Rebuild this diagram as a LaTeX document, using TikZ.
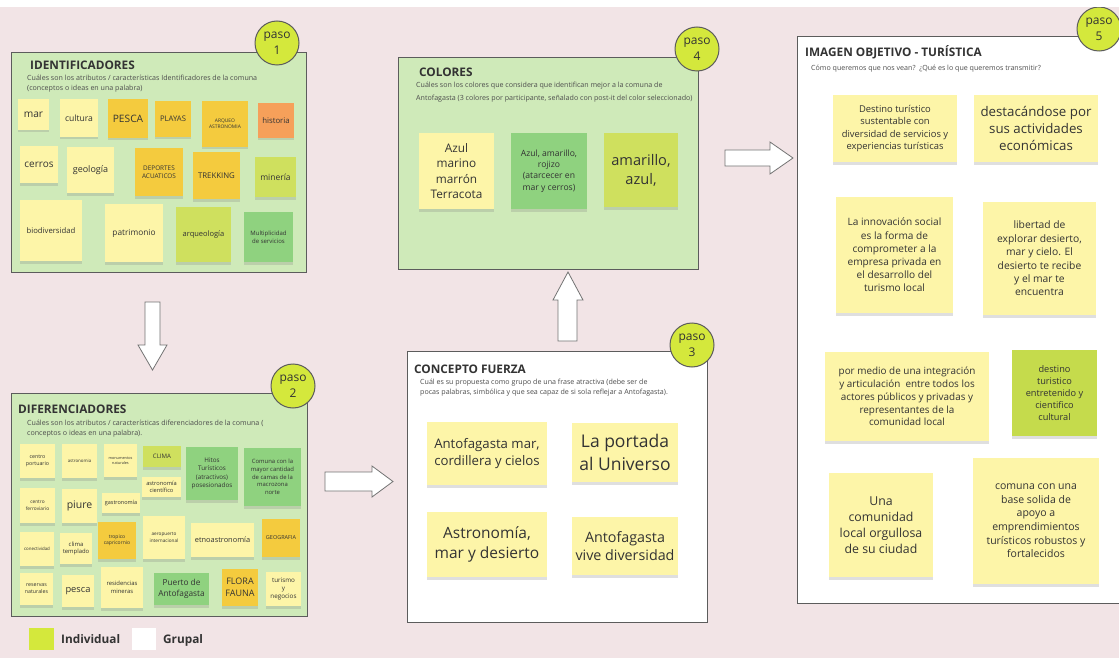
\documentclass[tikz,border=0pt]{standalone}
\usepackage{fontspec}
\setmainfont{Open Sans}
\usetikzlibrary{shadows}
\definecolor{bgpink}{HTML}{F2E4E6}
\definecolor{panelgreen}{HTML}{CFEAB9}
\definecolor{pale}{HTML}{FDF5A8}
\definecolor{gold}{HTML}{F4CB3E}
\definecolor{orng}{HTML}{F6A05A}
\definecolor{lime}{HTML}{CFE05E}
\definecolor{limedark}{HTML}{C5DB4C}
\definecolor{grn}{HTML}{8FD27F}
\definecolor{pasofill}{HTML}{D4E83C}
\definecolor{edge}{HTML}{5C5C5C}
\definecolor{ink}{HTML}{333333}
\newcommand\fs[1]{\pgfmathsetmacro\fslead{#1*1.3}\fontsize{#1}{\fslead}\selectfont}
\tikzset{
  panel/.style={draw=edge, line width=1.1pt, anchor=north west, inner sep=0pt},
  sticky/.style={fill=pale, inner sep=1pt, align=center, text=ink,
    drop shadow={shadow xshift=0pt, shadow yshift=-2.5pt, opacity=0.25}},
  paso/.style={circle, draw=edge, line width=1pt, fill=pasofill, minimum size=44pt,
    inner sep=0pt, align=center, font=\fs{12}, text=ink},
  ptitle/.style={anchor=base west, inner sep=0pt, font=\bfseries\fs{11.8}, text=ink},
  psub/.style={anchor=base west, inner sep=0pt, font=\fs{7.1}, text=black!70},
  blockarrow/.style={fill=white, draw=black!55, line width=0.8pt, line join=miter},
}
\begin{document}
\begin{tikzpicture}[x=1pt,y=-1pt]
\clip (0,0) rectangle (1119,658);
\fill[bgpink] (0,0) rectangle (1119,658);

% ---------- panels ----------
\node[panel, fill=panelgreen, minimum width=295pt, minimum height=220pt] (p1) at (11,52) {};
\node[panel, fill=panelgreen, minimum width=296pt, minimum height=223pt] (p2) at (11,393) {};
\node[panel, fill=panelgreen, minimum width=300pt, minimum height=212pt] (p4) at (398,57) {};
\node[panel, fill=white, minimum width=300pt, minimum height=271pt] (p3) at (407,351) {};
\node[panel, fill=white, minimum width=335pt, minimum height=567pt] (p5) at (797,36) {};

% ---------- block arrows ----------
\draw[blockarrow] (145,302) -- (160,302) -- (160,345) -- (167,345) -- (152.5,370) -- (138,345) -- (145,345) -- cycle;
\draw[blockarrow] (325,472) -- (372,472) -- (372,466) -- (393,481.5) -- (372,497) -- (372,491) -- (325,491) -- cycle;
\draw[blockarrow] (558,341) -- (558,300) -- (553,300) -- (568,272) -- (583,300) -- (577,300) -- (577,341) -- cycle;
\draw[blockarrow] (725,150) -- (770,150) -- (770,142) -- (793,158) -- (770,174) -- (770,166) -- (725,166) -- cycle;

% ---------- panel 1: IDENTIFICADORES ----------
\node[ptitle] (t1) at (30,70) {IDENTIFICADORES};
\node[psub] (s1a) at (27,80.5) {Cuáles son los atributos / características Identificadores de la comuna};
\node[psub] (s1b) at (27,91) {(conceptos o ideas en una palabra)};

\node[sticky, minimum width=31pt, minimum height=31pt, font=\fs{10.2}] (i1) at (33.5,114.5) {mar};
\node[sticky, minimum width=38pt, minimum height=38pt, font=\fs{8.6}] (i2) at (79,118) {cultura};
\node[sticky, fill=gold, minimum width=40pt, minimum height=39pt, font=\fs{10.2}] (i3) at (128,118.5) {PESCA};
\node[sticky, fill=gold, minimum width=36pt, minimum height=36pt, font=\fs{7.7}] (i4) at (173,119) {PLAYAS};
\node[sticky, fill=gold, minimum width=46pt, minimum height=46pt, font=\fs{4.9}] (i5) at (225,124) {ARQUEO\\ASTRONOMIA};
\node[sticky, fill=orng, minimum width=36pt, minimum height=35pt, font=\fs{7.8}] (i6) at (276,120.5) {historia};
\node[sticky, minimum width=38pt, minimum height=37pt, font=\fs{10}] (i7) at (39,164.5) {cerros};
\node[sticky, minimum width=47pt, minimum height=46pt, font=\fs{9}] (i8) at (90.5,170) {geología};
\node[sticky, fill=gold, minimum width=48pt, minimum height=48pt, font=\fs{6.4}] (i9) at (159,172) {DEPORTES\\ACUATICOS};
\node[sticky, fill=gold, minimum width=47pt, minimum height=47pt, font=\fs{7.8}] (i10) at (216.5,175.5) {TREKKING};
\node[sticky, fill=lime, minimum width=41pt, minimum height=40pt, font=\fs{8.5}] (i11) at (275.5,177) {minería};
\node[sticky, minimum width=62pt, minimum height=61pt, font=\fs{7.7}] (i12) at (51,230.5) {biodiversidad};
\node[sticky, minimum width=58pt, minimum height=58pt, font=\fs{8.3}] (i13) at (134,233) {patrimonio};
\node[sticky, fill=lime, minimum width=55pt, minimum height=55pt, font=\fs{7.5}] (i14) at (203.5,234.5) {arqueología};
\node[sticky, fill=grn, minimum width=49pt, minimum height=50pt, font=\fs{6}] (i15) at (268.5,237) {Multiplicidad\\de servicios};

% ---------- panel 2: DIFERENCIADORES ----------
\node[ptitle] (t2) at (18,413) {DIFERENCIADORES};
\node[psub] (s2a) at (27,425) {Cuáles son los atributos / características diferenciadores de la comuna (};
\node[psub] (s2b) at (27,435.5) {conceptos o ideas en una palabra).};

\node[sticky, minimum width=35pt, minimum height=34pt, font=\fs{5.3}] (d1) at (37.5,461) {centro\\portuario};
\node[sticky, minimum width=35pt, minimum height=34pt, font=\fs{4.4}] (d2) at (79.5,461) {astronomia};
\node[sticky, minimum width=33pt, minimum height=33pt, font=\fs{3.8}] (d3) at (120.5,460.5) {monumentos\\naturales};
\node[sticky, fill=lime, minimum width=38pt, minimum height=21pt, font=\fs{6.1}] (d4) at (162,456.5) {CLIMA};
\node[sticky, fill=grn, minimum width=52pt, minimum height=53pt, font=\fs{6.3}] (d5) at (212,473.5) {Hitos\\Turísticos\\(atractivos)\\posesionados};
\node[sticky, fill=grn, minimum width=57pt, minimum height=58pt, font=\fs{5.9}] (d6) at (272.5,477) {Comuna con la\\mayor cantidad\\de camas de la\\macrozona\\norte};
\node[sticky, minimum width=39pt, minimum height=20pt, font=\fs{5.7}] (d7) at (161.5,487) {astronomía\\científico};
\node[sticky, minimum width=35pt, minimum height=35pt, font=\fs{4.8}] (d8) at (37.5,505.5) {centro\\ferroviario};
\node[sticky, minimum width=35pt, minimum height=34pt, font=\fs{10.5}] (d9) at (79.5,506) {piure};
\node[sticky, minimum width=38pt, minimum height=20pt, font=\fs{5.5}] (d10) at (121,503) {gastronomía};
\node[sticky, fill=gold, minimum width=38pt, minimum height=37pt, font=\fs{5}] (d11) at (117,540.5) {tropico\\capricornio};
\node[sticky, minimum width=42pt, minimum height=43pt, font=\fs{4.7}] (d12) at (164,537.5) {aeropuerto\\internacional};
\node[sticky, minimum width=63pt, minimum height=34pt, font=\fs{7.4}] (d13) at (222.5,540) {etnoastronomía};
\node[sticky, fill=gold, minimum width=38pt, minimum height=38pt, font=\fs{5.5}] (d14) at (281,538) {GEOGRAFIA};
\node[sticky, minimum width=34pt, minimum height=34pt, font=\fs{4.4}] (d15) at (37,549) {conectividad};
\node[sticky, minimum width=32pt, minimum height=31pt, font=\fs{5.9}] (d16) at (76,548.5) {clima\\templado};
\node[sticky, minimum width=33pt, minimum height=32pt, font=\fs{5.3}] (d17) at (36.5,589) {reservas\\naturales};
\node[sticky, minimum width=32pt, minimum height=32pt, font=\fs{9.3}] (d18) at (78,591) {pesca};
\node[sticky, minimum width=42pt, minimum height=41pt, font=\fs{5.9}] (d19) at (122,587.5) {residencias\\mineras};
\node[sticky, fill=grn, minimum width=55pt, minimum height=32pt, font=\fs{8.3}] (d20) at (181.5,589) {Puerto de\\Antofagasta};
\node[sticky, fill=gold, minimum width=36pt, minimum height=37pt, font=\fs{9}] (d21) at (240,587.5) {FLORA\\FAUNA};
\node[sticky, minimum width=35pt, minimum height=34pt, font=\fs{6.3}] (d22) at (283.5,589) {turismo\\y\\negocios};

% ---------- panel 4: COLORES ----------
\node[ptitle] (t4) at (419,77) {COLORES};
\node[psub] (s4a) at (416,88) {Cuáles son los colores que considera que identifican mejor a la comuna de};
\node[psub] (s4b) at (416,101) {Antofagasta (3 colores por participante, señalado con post-it del color seleccionado)};

\node[sticky, minimum width=75pt, minimum height=76pt, font=\fs{11.8}] (c1) at (456.5,171) {Azul\\marino\\marrón\\Terracota};
\node[sticky, fill=grn, minimum width=76pt, minimum height=76pt, font=\fs{8.6}] (c2) at (549,171) {Azul, amarillo,\\rojizo\\(atarcecer en\\mar y cerros)};
\node[sticky, fill=lime, minimum width=74pt, minimum height=74pt, font=\fs{14.6}] (c3) at (641,170) {amarillo,\\azul,};

% ---------- panel 3: CONCEPTO FUERZA ----------
\node[ptitle] (t3) at (414,373) {CONCEPTO FUERZA};
\node[psub] (s3a) at (420,384) {Cuál es su propuesta como grupo de una frase atractiva (debe ser de};
\node[psub] (s3b) at (420,394.5) {pocas palabras, simbólica y que sea capaz de si sola reflejar a Antofagasta).};

\node[sticky, minimum width=120pt, minimum height=63pt, font=\fs{13.2}] (f1) at (487,453.5) {Antofagasta mar,\\cordillera y cielos};
\node[sticky, minimum width=106pt, minimum height=59pt, font=\fs{17.5}] (f2) at (625,452.5) {La portada\\al Universo};
\node[sticky, minimum width=120pt, minimum height=65pt, font=\fs{15.5}] (f3) at (487,544.5) {Astronomía,\\mar y desierto};
\node[sticky, minimum width=106pt, minimum height=58pt, font=\fs{14.3}] (f4) at (625,546) {Antofagasta\\vive diversidad};

% ---------- panel 5: IMAGEN OBJETIVO ----------
\node[ptitle] (t5) at (805,57) {IMAGEN OBJETIVO - TURÍSTICA};
\node[psub] (s5a) at (811,71) {Cómo queremos que nos vean?\ \ ¿Qué es lo que queremos transmitir?};

\node[sticky, minimum width=124pt, minimum height=67pt, font=\fs{9.4}] (o1) at (895,128.5) {Destino turístico\\sustentable con\\diversidad de servicios y\\experiencias turísticas};
\node[sticky, minimum width=124pt, minimum height=67pt, font=\fs{13.3}] (o2) at (1036,128.5) {destacándose por\\sus actividades\\económicas};
\node[sticky, minimum width=117pt, minimum height=116pt, font=\fs{10.1}] (o3) at (894.5,255) {La innovación social\\es la forma de\\comprometer a la\\empresa privada en\\el desarrollo del\\turismo local};
\node[sticky, minimum width=113pt, minimum height=113pt, font=\fs{10.3}] (o4) at (1039.5,258.5) {libertad de\\explorar desierto,\\mar y cielo. El\\desierto te recibe\\y el mar te\\encuentra};
\node[sticky, minimum width=164pt, minimum height=89pt, font=\fs{9.9}] (o5) at (907,396.5) {por medio de una integración\\y articulación\ \ entre todos los\\actores públicos y privadas y\\representantes de la\\comunidad local};
\node[sticky, fill=limedark, minimum width=85pt, minimum height=86pt, font=\fs{9.2}] (o6) at (1054.5,393) {destino\\turistico\\entretenido y\\cientifico\\cultural};
\node[sticky, minimum width=104pt, minimum height=104pt, font=\fs{12.3}] (o7) at (881,525) {Una\\comunidad\\local orgullosa\\de su ciudad};
\node[sticky, minimum width=126pt, minimum height=126pt, font=\fs{10.5}] (o8) at (1036,521) {comuna con una\\base solida de\\apoyo a\\emprendimientos\\turísticos robustos y\\fortalecidos};

% ---------- paso circles ----------
\node[paso] (paso1) at (277,43) {paso\\1};
\node[paso] (paso2) at (293,386) {paso\\2};
\node[paso] (paso4) at (697,49) {paso\\4};
\node[paso] (paso3) at (692,345) {paso\\3};
\node[paso] (paso5) at (1099,29) {paso\\5};

% ---------- legend ----------
\node[fill=pasofill, minimum width=25pt, minimum height=22pt, anchor=north west, inner sep=0pt] (legI) at (29,628) {};
\node[anchor=base west, inner sep=0pt, font=\bfseries\fs{11.8}, text=ink] (legIt) at (61,643.5) {Individual};
\node[fill=white, minimum width=24pt, minimum height=22pt, anchor=north west, inner sep=0pt] (legG) at (132,628) {};
\node[anchor=base west, inner sep=0pt, font=\bfseries\fs{11.8}, text=ink] (legGt) at (163,643.5) {Grupal};

% top white band
\fill[white] (0,0) rectangle (1119,7);
\end{tikzpicture}
\end{document}
